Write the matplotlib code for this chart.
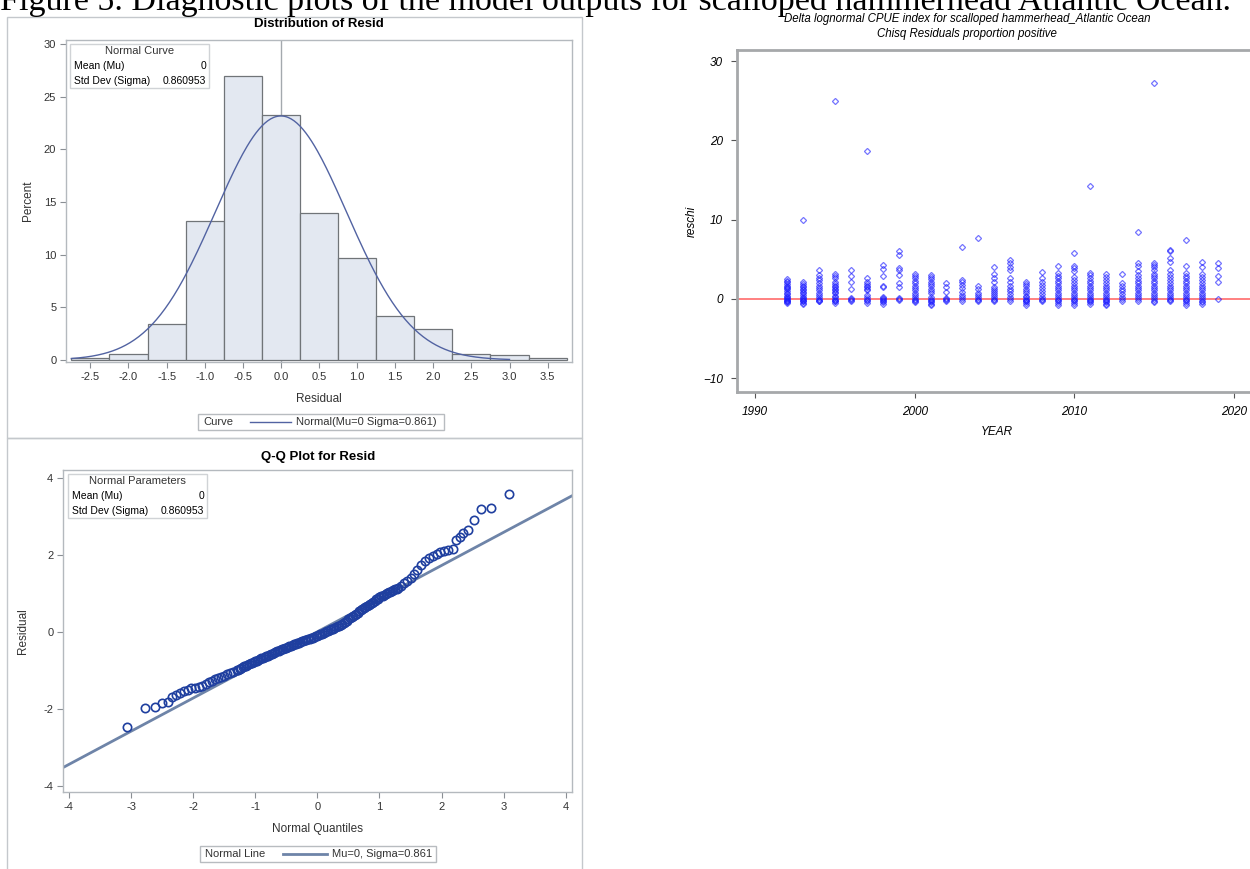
import numpy as np
import matplotlib.pyplot as plt
from matplotlib.patches import Rectangle
from matplotlib.lines import Line2D

plt.rcParams['font.family'] = 'Liberation Sans'

W, H = 1250, 869

# --- histogram of residuals (percent in 0.5 wide bins) ---
bin_mids = [-2.5, -2.0, -1.5, -1.0, -0.5, 0.0, 0.5, 1.0, 1.5, 2.0, 2.5, 3.0, 3.5]
bin_pct = [0.2, 0.6, 3.4, 13.2, 27.0, 23.3, 14.0, 9.7, 4.2, 2.9, 0.6, 0.5, 0.2]
bin_width = 0.5
mu = 0.0
sigma = 0.860953

# --- Q-Q plot: normal quantile vs ordered residual ---
qq_quantile = [
    -3.06, -2.77, -2.61, -2.50, -2.41, -2.34, -2.27, -2.21, -2.15, -2.09, -2.03, -1.97, -1.91,
    -1.85, -1.80, -1.75, -1.70, -1.65, -1.60, -1.55, -1.50, -1.45, -1.40, -1.35,
    -1.300, -1.275, -1.250, -1.225, -1.200, -1.175, -1.150, -1.125, -1.100, -1.075, -1.050,
    -1.025, -1.000, -0.975, -0.950, -0.925, -0.900, -0.875, -0.850, -0.825, -0.800, -0.775,
    -0.750, -0.725, -0.700, -0.675, -0.650, -0.625, -0.600, -0.575, -0.550, -0.525, -0.500,
    -0.475, -0.450, -0.425, -0.400, -0.375, -0.350, -0.325, -0.300, -0.275, -0.250, -0.225,
    -0.200, -0.175, -0.150, -0.125, -0.100, -0.075, -0.050, -0.025, 0.000, 0.025, 0.050,
    0.075, 0.100, 0.125, 0.150, 0.175, 0.200, 0.225, 0.250, 0.275, 0.300, 0.325, 0.350,
    0.375, 0.400, 0.425, 0.450, 0.475, 0.500, 0.525, 0.550, 0.575, 0.600, 0.625, 0.650,
    0.675, 0.700, 0.725, 0.750, 0.775, 0.800, 0.825, 0.850, 0.875, 0.900, 0.925, 0.950,
    0.975, 1.000, 1.025, 1.050, 1.075, 1.100, 1.125, 1.150, 1.175, 1.200, 1.225, 1.250,
    1.275, 1.300,
    1.35, 1.40, 1.45, 1.50, 1.55,
    1.61, 1.67, 1.73, 1.79, 1.86, 1.92, 1.98, 2.04, 2.10, 2.18, 2.23, 2.29, 2.35, 2.42, 2.52,
    2.64, 2.79, 3.08,
]
qq_resid = [
    -2.48, -1.98, -1.96, -1.84, -1.83, -1.69, -1.64, -1.58, -1.54, -1.50, -1.47, -1.45, -1.43,
    -1.40, -1.35, -1.30, -1.27, -1.23, -1.20, -1.17, -1.14, -1.10, -1.07, -1.04,
    -1.00, -0.98, -0.96, -0.94, -0.92, -0.90, -0.88, -0.86, -0.84, -0.82, -0.80,
    -0.79, -0.77, -0.75, -0.73, -0.71, -0.69, -0.67, -0.65, -0.64, -0.62, -0.60,
    -0.58, -0.57, -0.55, -0.53, -0.51, -0.50, -0.48, -0.46, -0.44, -0.43, -0.41,
    -0.40, -0.38, -0.36, -0.34, -0.33, -0.31, -0.30, -0.28, -0.27, -0.25, -0.24,
    -0.22, -0.21, -0.19, -0.18, -0.16, -0.15, -0.13, -0.12, -0.10, -0.09, -0.07,
    -0.05, -0.03, -0.01, 0.01, 0.03, 0.04, 0.06, 0.08, 0.10, 0.12, 0.14, 0.16,
    0.18, 0.21, 0.23, 0.26, 0.29, 0.32, 0.35, 0.38, 0.41, 0.44, 0.47, 0.50,
    0.53, 0.56, 0.58, 0.61, 0.64, 0.67, 0.69, 0.72, 0.75, 0.78, 0.81, 0.84,
    0.86, 0.89, 0.92, 0.94, 0.96, 0.98, 1.00, 1.02, 1.04, 1.06, 1.08, 1.10,
    1.12, 1.14,
    1.20, 1.26, 1.32, 1.40, 1.50,
    1.61, 1.74, 1.84, 1.91, 1.97, 2.03, 2.06, 2.09, 2.13, 2.16, 2.37, 2.46, 2.56, 2.65, 2.91,
    3.19, 3.21, 3.57,
]

# --- chi-square residuals by year ---
years = list(range(1992, 2020))
reschi = [
    [-0.5, -0.4, -0.3, -0.2, -0.1, 0, 0.1, 0.2, 0.4, 0.6, 0.8, 1.0, 1.2, 1.4, 1.5, 1.7, 1.9, 2.1, 2.3, 2.5],
    [-0.6, -0.5, -0.3, -0.2, -0.1, 0, 0.1, 0.3, 0.5, 0.7, 0.9, 1.1, 1.3, 1.5, 1.7, 1.9, 2.2, 9.9],
    [-0.3, -0.2, -0.1, 0, 0.2, 0.5, 0.8, 1.1, 1.4, 1.6, 2.0, 2.4, 2.7, 3.0, 3.6],
    [-0.5, -0.3, -0.2, -0.1, 0, 0.2, 0.4, 0.7, 0.9, 1.1, 1.3, 1.5, 1.7, 1.9, 2.2, 2.6, 2.9, 3.1, 25.0],
    [-0.2, -0.1, 0, 0.1, 1.3, 2.1, 2.9, 3.7],
    [-0.5, -0.3, -0.1, 0, 0.2, 0.5, 1.1, 1.3, 1.5, 1.7, 1.9, 2.2, 2.6, 18.6],
    [-0.6, -0.4, -0.3, -0.1, 0, 0.1, 0.3, 1.5, 1.6, 2.9, 3.8, 4.3],
    [-0.1, 0, 0.1, 1.5, 2.0, 3.0, 3.7, 3.9, 5.6, 6.0],
    [-0.4, -0.2, -0.1, 0, 0.2, 0.5, 0.8, 1.1, 1.4, 1.7, 2.0, 2.3, 2.6, 2.9, 3.1],
    [-0.8, -0.6, -0.4, -0.2, -0.1, 0, 0.3, 0.7, 1.0, 1.3, 1.6, 1.9, 2.2, 2.5, 2.8, 3.0],
    [-0.2, -0.1, 0, 0.1, 0.9, 1.5, 2.0],
    [-0.2, 0, 0.2, 0.5, 0.9, 1.4, 1.8, 2.2, 2.4, 6.6],
    [-0.3, -0.1, 0, 0.2, 0.5, 0.8, 1.2, 1.6, 7.7],
    [-0.3, -0.1, 0, 0.2, 0.5, 0.8, 1.0, 1.2, 1.5, 2.1, 2.6, 3.1, 4.0],
    [-0.2, 0, 0.2, 0.6, 1.0, 1.3, 1.6, 2.2, 2.6, 3.7, 4.0, 4.5, 4.9],
    [-0.7, -0.5, -0.3, -0.2, -0.1, 0, 0.2, 0.4, 0.7, 1.0, 1.3, 1.6, 1.9, 2.2],
    [-0.3, -0.1, 0, 0.2, 0.6, 1.0, 1.4, 1.8, 2.2, 2.6, 3.4],
    [-0.7, -0.5, -0.3, -0.1, 0, 0.2, 0.5, 0.8, 1.1, 1.4, 1.7, 2.0, 2.3, 2.6, 2.9, 3.3, 4.2],
    [-0.7, -0.5, -0.3, -0.1, 0, 0.2, 0.5, 0.8, 1.1, 1.4, 1.7, 2.0, 2.4, 2.8, 3.5, 3.9, 4.2, 5.8],
    [-0.6, -0.4, -0.2, -0.1, 0, 0.2, 0.5, 0.8, 1.1, 1.4, 1.7, 2.0, 2.3, 2.6, 3.0, 3.3, 14.2],
    [-0.8, -0.6, -0.4, -0.2, -0.1, 0, 0.2, 0.5, 0.8, 1.1, 1.4, 1.7, 2.0, 2.4, 2.8, 3.2],
    [-0.2, 0, 0.2, 0.6, 1.0, 1.3, 1.6, 2.0, 3.2],
    [-0.2, 0, 0.2, 0.5, 0.8, 1.1, 1.4, 1.7, 2.0, 2.3, 2.6, 3.0, 3.5, 4.1, 4.5, 8.4],
    [-0.4, -0.2, 0, 0.2, 0.5, 0.8, 1.1, 1.4, 1.7, 2.0, 2.3, 2.6, 2.9, 3.2, 3.6, 4.0, 4.3, 4.6, 27.3],
    [-0.3, -0.1, 0, 0.2, 0.5, 0.8, 1.1, 1.4, 1.7, 2.0, 2.4, 2.8, 3.2, 3.6, 4.7, 5.2, 6.0, 6.2],
    [-0.7, -0.5, -0.3, -0.1, 0, 0.2, 0.5, 0.8, 1.1, 1.4, 1.7, 2.0, 2.3, 2.6, 2.9, 3.3, 4.2, 7.5],
    [-0.6, -0.4, -0.2, 0, 0.2, 0.5, 0.8, 1.1, 1.4, 1.7, 2.0, 2.4, 2.8, 3.1, 4.0, 4.7],
    [0, 2.1, 2.9, 3.9, 4.6],
]

SAS_FRAME = '#C4C8CC'
SAS_TEXT = '#333333'
CURVE_COL = '#5263A2'
QQ_LINE = '#6E84A8'
QQ_MARK = '#1F3F9F'


def fx(px):
    return px / W


def fy(py):
    return 1 - py / H


def fig_box(x0, y0, x1, y1, ec=SAS_FRAME):
    fig.add_artist(Rectangle((fx(x0), fy(y1)), (x1 - x0) / W, (y1 - y0) / H,
                             transform=fig.transFigure, fill=False, ec=ec, lw=1))


def sas_axes(ax):
    for s in ax.spines.values():
        s.set_color('#B4B9BE')
        s.set_linewidth(1.0)
    ax.tick_params(direction='out', length=4, width=0.8, color='#8A8F94',
                   labelsize=8, labelcolor=SAS_TEXT, pad=3)


def stat_inset(x0, y0, x1, y1, title, sd):
    fig_box(x0, y0, x1, y1, ec='#D0D3D6')
    rh = (y1 - y0) / 3
    fig.text(fx((x0 + x1) / 2), fy(y0 + rh * 0.5), title, ha='center', va='center',
             fontsize=8, color=SAS_TEXT)
    fig.text(fx(x0 + 4), fy(y0 + rh * 1.5), 'Mean (Mu)', ha='left', va='center',
             fontsize=7.5, color='black')
    fig.text(fx(x1 - 3), fy(y0 + rh * 1.5), '%g' % mu, ha='right', va='center',
             fontsize=7.5, color='black')
    fig.text(fx(x0 + 4), fy(y0 + rh * 2.5), 'Std Dev (Sigma)', ha='left', va='center',
             fontsize=7.5, color='black')
    fig.text(fx(x1 - 3), fy(y0 + rh * 2.5), '%.6f' % sd, ha='right', va='center',
             fontsize=7.5, color='black')


def sas_legend(x0, y0, x1, y1, name, line_x0, line_x1, label, color, lw):
    fig_box(x0, y0, x1, y1, ec='#B8BCC0')
    yc = (y0 + y1) / 2
    fig.text(fx(x0 + 5), fy(yc), name, ha='left', va='center', fontsize=8, color=SAS_TEXT)
    fig.add_artist(Line2D([fx(line_x0), fx(line_x1)], [fy(yc), fy(yc)],
                          transform=fig.transFigure, color=color, lw=lw))
    fig.text(fx(line_x1 + 5), fy(yc), label, ha='left', va='center', fontsize=8,
             color=SAS_TEXT)


fig = plt.figure(figsize=(W / 100, H / 100), dpi=100)

# caption running off the top edge
fig.text(0.0, fy(10), 'Figure 5. Diagnostic plots of the model outputs for scalloped '
         'hammerhead Atlantic Ocean.', family='Liberation Serif', fontsize=24.5,
         ha='left', va='baseline')

# ---------------- histogram panel ----------------
fig_box(7, 17, 582, 438)
ax1 = fig.add_axes([fx(66), fy(362), (572 - 66) / W, (362 - 40) / H])
ax1.bar(bin_mids, bin_pct, width=bin_width, color='#E3E8F1', edgecolor='#707478',
        linewidth=0.9, zorder=2)
xc = np.linspace(-2.75, 3.0, 300)
pct_curve = 100 * bin_width * np.exp(-0.5 * ((xc - mu) / sigma) ** 2) / (sigma * np.sqrt(2 * np.pi))
ax1.plot(xc, pct_curve, color=CURVE_COL, lw=1.0, zorder=3)
ax1.axvline(mu, color='#A4A9AE', lw=1.0, zorder=1)
ax1.set_xlim(-2.82, 3.82)
ax1.set_ylim(-0.19, 30.38)
ax1.set_xticks(bin_mids)
ax1.set_xticklabels(['%.1f' % v for v in bin_mids])
ax1.set_yticks([0, 5, 10, 15, 20, 25, 30])
ax1.set_xlabel('Residual', fontsize=8.5, color=SAS_TEXT, labelpad=8)
ax1.set_ylabel('Percent', fontsize=8.5, color=SAS_TEXT, labelpad=7)
sas_axes(ax1)
fig.text(fx(319), fy(24), 'Distribution of Resid', ha='center', va='center',
         fontsize=9.5, fontweight='bold', color='black')
stat_inset(70, 44, 209, 88, 'Normal Curve', sigma)
sas_legend(198, 414, 444, 430, 'Curve', 250, 291,
           'Normal(Mu=%g Sigma=%.3f)' % (mu, sigma), CURVE_COL, 1.0)

# ---------------- Q-Q panel ----------------
fig_box(7, 438, 582, 880)
ax2 = fig.add_axes([fx(63), fy(792), (572 - 63) / W, (792 - 470) / H])
qx = np.array([-4.095, 4.10])
ax2.plot(qx, mu + sigma * qx, color=QQ_LINE, lw=2.0, zorder=2)
ax2.plot(qq_quantile, qq_resid, 'o', ms=6.0, mfc='none', mec=QQ_MARK, mew=1.2, zorder=3)
ax2.set_xlim(-4.095, 4.10)
ax2.set_ylim(-4.16, 4.2)
ax2.set_xticks(range(-4, 5))
ax2.set_xticklabels([str(v) for v in range(-4, 5)])
ax2.set_yticks([-4, -2, 0, 2, 4])
ax2.set_yticklabels(['-4', '-2', '0', '2', '4'])
ax2.set_xlabel('Normal Quantiles', fontsize=8.5, color=SAS_TEXT, labelpad=8)
ax2.set_ylabel('Residual', fontsize=8.5, color=SAS_TEXT, labelpad=10)
sas_axes(ax2)
fig.text(fx(318), fy(457), 'Q-Q Plot for Resid', ha='center', va='center',
         fontsize=9.5, fontweight='bold', color='black')
stat_inset(68, 474, 207, 518, 'Normal Parameters', sigma)
sas_legend(200, 846, 436, 862, 'Normal Line', 283, 327,
           'Mu=%g, Sigma=%.3f' % (mu, sigma), QQ_LINE, 2.0)

# ---------------- residuals by year ----------------
ax3 = fig.add_axes([fx(737), fy(392), (1256 - 737) / W, (392 - 50) / H])
yr_x = np.concatenate([[y] * len(v) for y, v in zip(years, reschi)])
yr_y = np.concatenate(reschi)
ax3.axhline(0, color='#FF8080', lw=1.4, zorder=1)
ax3.plot(yr_x, yr_y, 'D', ms=3.1, mfc='none', mec=(0.1, 0.1, 1.0, 0.6), mew=0.9, zorder=2)
ax3.set_xlim(1988.87, 2021.4)
ax3.set_ylim(-11.73, 31.4)
ax3.set_xticks([1990, 2000, 2010, 2020])
ax3.set_yticks([-10, 0, 10, 20, 30])
for s in ax3.spines.values():
    s.set_color('#A6A8AA')
    s.set_linewidth(2.0)
ax3.tick_params(direction='out', length=4, width=0.8, color='#555555', labelsize=8.5, pad=6)
for lab in ax3.get_xticklabels() + ax3.get_yticklabels():
    lab.set_fontstyle('italic')
ax3.set_xlabel('YEAR', fontsize=8.5, style='italic', labelpad=6)
ax3.set_ylabel('reschi', fontsize=8.5, style='italic', labelpad=4)
fig.text(fx(967), fy(19), 'Delta lognormal CPUE index for scalloped hammerhead_Atlantic Ocean',
         ha='center', va='center', fontsize=8.3, style='italic')
fig.text(fx(967), fy(34), 'Chisq Residuals proportion positive',
         ha='center', va='center', fontsize=8.3, style='italic')

fig.savefig('out.png', dpi=100)
